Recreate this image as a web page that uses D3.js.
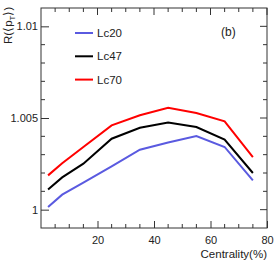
<!DOCTYPE html>
<html>
<head>
<meta charset="utf-8">
<script src="https://cdn.jsdelivr.net/npm/d3@7"></script>
<style>
  body { margin: 0; background: #fff; }
  text { font-family: "Liberation Sans", Arial, sans-serif; fill: #222; }
</style>
</head>
<body>
<div id="chart"></div>
<script>
// data
var centrality = [2.5, 7.5, 15, 25, 35, 45, 55, 65, 75];
var lc20 = [1.00014, 1.00082, 1.00147, 1.00236, 1.00327, 1.00366, 1.00402, 1.00342, 1.00160];
var lc47 = [1.00110, 1.00176, 1.00251, 1.00387, 1.00447, 1.00476, 1.00451, 1.00382, 1.00200];
var lc70 = [1.00187, 1.00253, 1.00342, 1.00460, 1.00515, 1.00556, 1.00527, 1.00482, 1.00287];
var seriesNames = ["Lc20", "Lc47", "Lc70"];
var seriesColors = ["#5a5ae0", "#000000", "#ff0000"];
var xTicks = [20, 40, 60, 80];
var yTicks = [1, 1.005, 1.01];

var svgWidth = 276;
var svgHeight = 265;
var margin = { top: 8, right: 9, bottom: 37, left: 41 };
var width = svgWidth - margin.left - margin.right;
var height = svgHeight - margin.top - margin.bottom;

var svg = d3.select("#chart")
  .append("svg")
  .attr("width", svgWidth)
  .attr("height", svgHeight);

var chartGroup = svg.append("g")
  .attr("transform", `translate(${margin.left}, ${margin.top})`);

var x = d3.scaleLinear().domain([0, 80]).range([0, width]);
var y = d3.scaleLinear().domain([0.999, 1.011]).range([height, 0]);

// minor tick positions
var xMinor = d3.range(5, 80, 5).filter(d => xTicks.indexOf(d) < 0);
var yMinor = d3.range(0, 12).map(i => +(0.999 + i * 0.001).toFixed(3))
  .filter(d => d > 0.999 && yTicks.indexOf(d) < 0);

var tickColor = "#333";

// frame
chartGroup.append("rect")
  .attr("width", width)
  .attr("height", height)
  .attr("fill", "none")
  .attr("stroke", tickColor)
  .attr("stroke-width", 1);

// bottom axis ticks (inward) + labels
var bottomAxis = d3.axisBottom(x).tickValues(xTicks).tickSize(-7).tickPadding(4)
  .tickFormat(d3.format("d"));
var xAxis = chartGroup.append("g")
  .attr("transform", `translate(0, ${height})`)
  .call(bottomAxis);
xAxis.select(".domain").remove();
xAxis.selectAll("text").attr("dy", "1.1em").style("font-size", "11px");
xAxis.selectAll("text").attr("y", 4);

// left axis
var leftAxis = d3.axisLeft(y).tickValues(yTicks).tickSize(-8).tickPadding(3)
  .tickFormat(d => d === 1 ? "1" : d3.format(".3~f")(d));
var yAxis = chartGroup.append("g").call(leftAxis);
yAxis.select(".domain").remove();
yAxis.selectAll("text").attr("x", -3).style("font-size", "11px");

// minor ticks and mirrored ticks
function addTicks(vals, isX, len, side) {
  chartGroup.append("g").selectAll("line")
    .data(vals)
    .enter()
    .append("line")
    .attr("x1", d => isX ? x(d) : (side === "left" ? 0 : width))
    .attr("x2", d => isX ? x(d) : (side === "left" ? len : width - len))
    .attr("y1", d => isX ? (side === "bottom" ? height : 0) : y(d))
    .attr("y2", d => isX ? (side === "bottom" ? height - len : len) : y(d))
    .attr("stroke", tickColor)
    .attr("stroke-width", 1);
}
addTicks(xMinor, true, 4, "bottom");
addTicks(xMinor, true, 4, "top");
addTicks(xTicks, true, 7, "top");
addTicks(yMinor, false, 4, "left");
addTicks(yMinor, false, 4, "right");
addTicks(yTicks, false, 7, "right");
chartGroup.selectAll(".tick line").attr("stroke", tickColor);

// lines
var allSeries = [lc20, lc47, lc70];
var line = d3.line()
  .x((d, i) => x(centrality[i]))
  .y(d => y(d));

chartGroup.selectAll(".series")
  .data(allSeries)
  .enter()
  .append("path")
  .attr("class", "series")
  .attr("d", d => line(d))
  .attr("fill", "none")
  .attr("stroke", (d, i) => seriesColors[i])
  .attr("stroke-width", 2)
  .attr("stroke-linejoin", "miter");

// legend
var legend = chartGroup.append("g")
  .attr("transform", "translate(34, 25)");
seriesNames.forEach(function(name, i) {
  var row = legend.append("g").attr("transform", `translate(0, ${i * 23.3})`);
  row.append("line")
    .attr("x1", 0).attr("x2", 18)
    .attr("y1", 0).attr("y2", 0)
    .attr("stroke", seriesColors[i])
    .attr("stroke-width", 2);
  row.append("text")
    .attr("x", 22)
    .attr("y", 4)
    .style("font-size", "11.5px")
    .text(name);
});

// panel label
chartGroup.append("text")
  .attr("x", 180)
  .attr("y", 28)
  .style("font-size", "12px")
  .text("(b)");

// x axis title
chartGroup.append("text")
  .attr("x", width)
  .attr("y", height + 30)
  .attr("text-anchor", "end")
  .style("font-size", "11.5px")
  .text("Centrality(%)");

// y axis title
var yTitle = svg.append("text")
  .attr("transform", "translate(12, 44) rotate(-90)")
  .attr("text-anchor", "start")
  .style("font-size", "11.5px");
yTitle.append("tspan").text("R(\u27E8p");
yTitle.append("tspan").attr("dy", 3).style("font-size", "8px").text("T");
yTitle.append("tspan").attr("dy", -3).text("\u27E9)");
</script>
</body>
</html>
